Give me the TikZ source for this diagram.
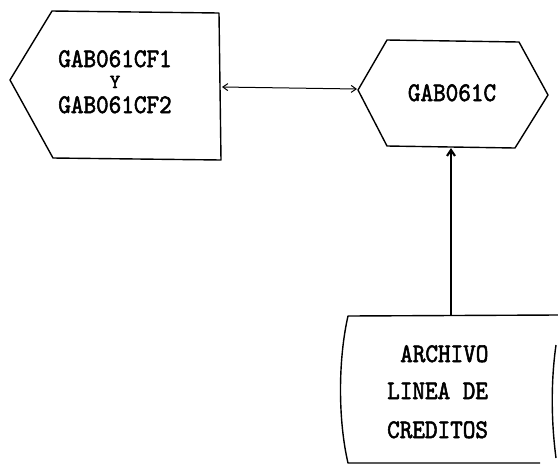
\documentclass[tikz,border=0pt]{standalone}
\usepackage{fontspec}
\usepackage{graphicx}
\usetikzlibrary{arrows.meta}
\newfontfamily\heavytt{lmmono10-regular.otf}[FakeBold=2.2]
\newcommand{\talltxt}[1]{\scalebox{1}[1.12]{#1}}
\tikzset{
  outline/.style={line width=1.4pt, line join=round},
  conn/.style={line width=1pt, {Straight Barb[length=5pt,width=7pt]}-{Straight Barb[length=5pt,width=7pt]}},
  upconn/.style={line width=2.2pt, -{Straight Barb[length=6pt,width=8pt]}},
  lbl/.style={font=\heavytt\fontsize{24}{24}\selectfont, inner sep=0pt},
  small/.style={font=\heavytt\fontsize{20}{20}\selectfont, inner sep=0pt, text height=12pt, text depth=0pt}
}
\begin{document}
\begin{tikzpicture}[x=1pt,y=-1pt]
\useasboundingbox (0,0) rectangle (558,467);
% left display shape
\draw[outline] (52,11) -- (219,13) -- (221,160) -- (53,158) -- (10,80) -- cycle;
\node[lbl, anchor=base] (cf1) at (115,67) {\talltxt{GAB061CF1}};
\node[small, anchor=base] (y) at (115,88) {Y};
\node[lbl, anchor=base] (cf2) at (115,113) {\talltxt{GAB061CF2}};
% hexagon
\draw[outline] (358,90) -- (387,40) -- (519,42) -- (548,95) -- (515,148) -- (387,146) -- cycle;
\node[lbl, anchor=base] (gab) at (452,101) {\talltxt{GAB061C}};
% file shape
\draw[outline] (558,315) -- (348,316) .. controls (338,360) and (338,420) .. (348,463) -- (540,463);
\draw[outline] (556,345) .. controls (551,380) and (551,420) .. (556,458);
\node[lbl, anchor=base west] (f1) at (400,362) {\talltxt{ARCHIVO}};
\node[lbl, anchor=base west] (f2) at (387,399) {\talltxt{LINEA DE}};
\node[lbl, anchor=base west] (f3) at (387,438) {\talltxt{CREDITOS}};
% connection points
\coordinate (cfR) at (222,87);
\coordinate (hexL) at (357,89);
\coordinate (hexB) at (451,148);
\coordinate (fileT) at (451,315);
\draw[conn] (cfR) -- (hexL);
\draw[upconn] (fileT) -- (hexB);
\end{tikzpicture}
\end{document}
